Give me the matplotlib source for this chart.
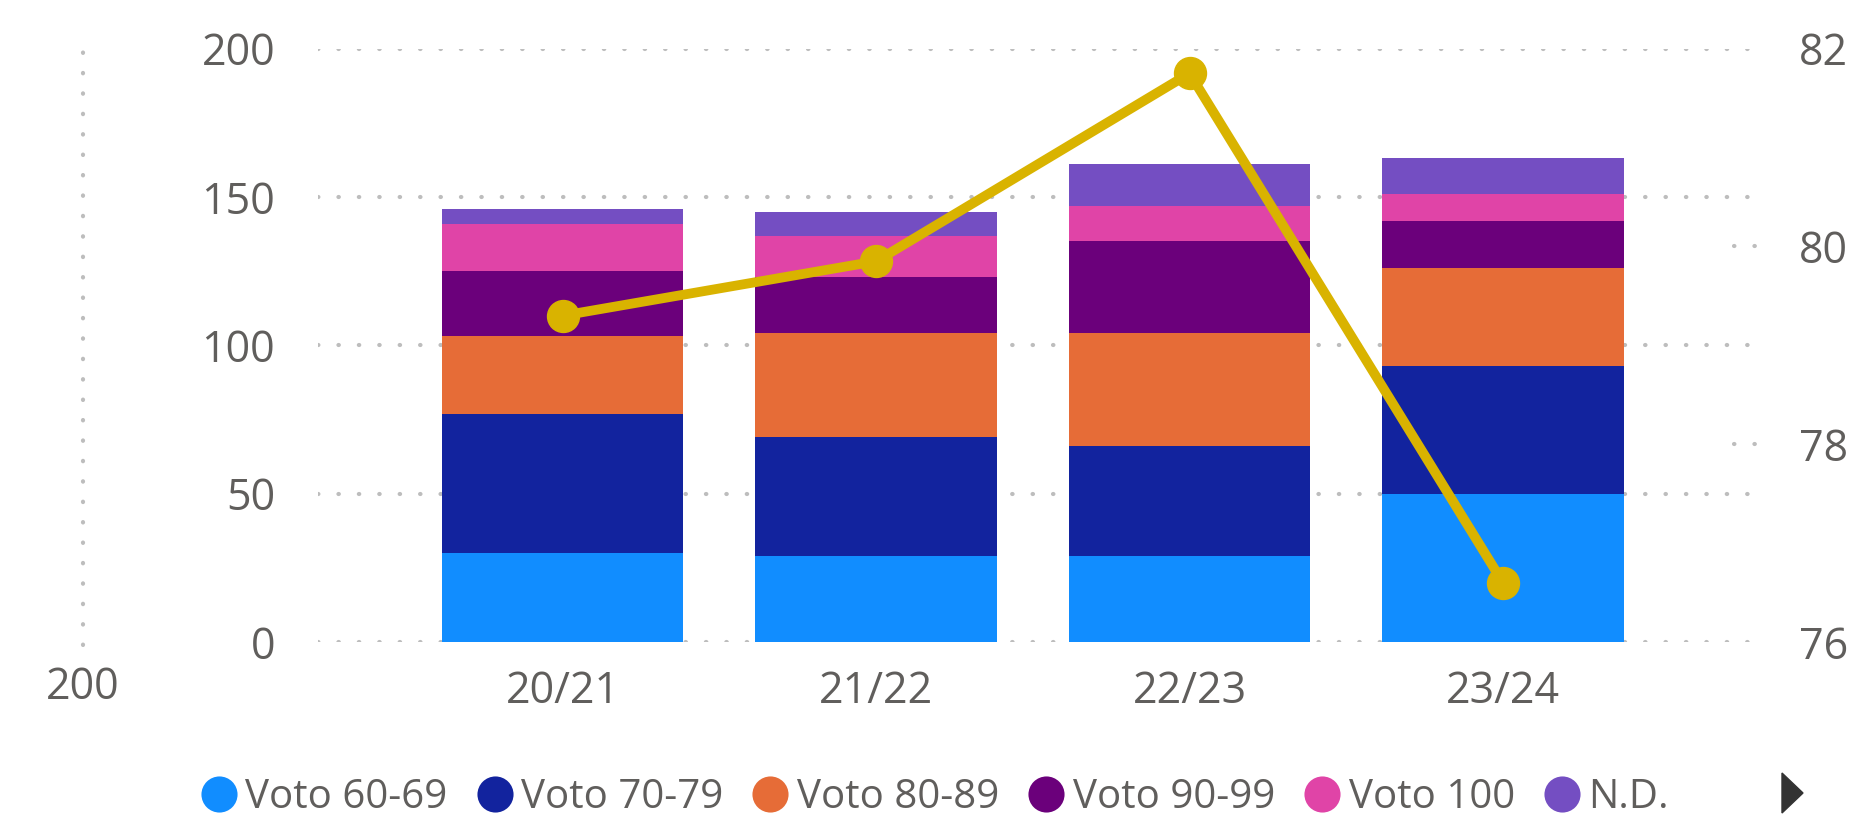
"""Stacked grade bands per school year with the average grade on a second axis."""

import matplotlib
matplotlib.use("Agg")
import matplotlib.pyplot as plt
from matplotlib.lines import Line2D
from matplotlib.patches import Polygon

categories = ["20/21", "21/22", "22/23", "23/24"]
voto_60_69 = [30, 29, 29, 50]
voto_70_79 = [47, 40, 37, 43]
voto_80_89 = [26, 35, 38, 33]
voto_90_99 = [22, 19, 31, 16]
voto_100 = [16, 14, 12, 9]
non_def = [5, 8, 14, 12]
media_voto = [79.3, 79.85, 81.75, 76.6]

series_names = ["Voto 60-69", "Voto 70-79", "Voto 80-89", "Voto 90-99", "Voto 100", "N.D."]
series = [voto_60_69, voto_70_79, voto_80_89, voto_90_99, voto_100, non_def]
colors = ["#118DFF", "#12239E", "#E66C37", "#6B007B", "#E044A7", "#744EC2"]
line_color = "#D9B300"
text_color = "#605E5C"
grid_color = "#BDBDBD"

plt.rcParams["font.family"] = ["Open Sans", "DejaVu Sans"]
FS = 31

fig = plt.figure(figsize=(18.6, 8.16), dpi=100)
ax = fig.add_axes([0.171, 0.2132, 0.7736, 0.7272])

x = list(range(len(categories)))
bottom = [0] * len(categories)
for name, vals, c in zip(series_names, series, colors):
    ax.bar(x, vals, width=0.77, bottom=bottom, color=c, label=name, zorder=2)
    bottom = [b + v for b, v in zip(bottom, vals)]

dots = dict(color=grid_color, lw=3.0, ls=(0, (0.1, 4.8)), dash_capstyle="round")
ax.set_ylim(0, 200)
ax.set_xlim(-0.78, 3.81)
ax.set_yticks([0, 50, 100, 150, 200])
for yv in [0, 50, 100, 150, 200]:
    ax.axhline(yv, zorder=1, **dots)
ax.set_xticks(x)
ax.set_xticklabels(categories)
for s in ax.spines.values():
    s.set_visible(False)
ax.tick_params(axis="y", length=0, pad=31, labelsize=FS, labelcolor=text_color)
ax.tick_params(axis="x", length=0, pad=20, labelsize=FS, labelcolor=text_color)

ax2 = ax.twinx()
ax2.set_ylim(76, 82)
ax2.set_yticks([76, 78, 80, 82])
for yv in [78, 80]:
    ax2.axhline(yv, xmin=0.984, xmax=1.0, zorder=1, **dots)
ax2.plot(x, media_voto, color=line_color, lw=7.0, marker="o", ms=23,
         solid_capstyle="round", zorder=5)
for s in ax2.spines.values():
    s.set_visible(False)
ax2.tick_params(axis="y", length=0, pad=30, labelsize=FS, labelcolor=text_color)

# stray axis on the far left, as in the original report
fig.add_artist(Line2D([0.0446, 0.0446], [0.2096, 0.947], transform=fig.transFigure, **dots))
fig.text(0.0446, 0.157, "200", ha="center", va="center", fontsize=FS, color=text_color)

handles = [Line2D([], [], ls="none", marker="o", ms=26, color=c, markeredgewidth=0)
           for c in colors]
fig.legend(handles, series_names, loc="center", bbox_to_anchor=(0.502, 0.022),
           ncol=6, frameon=False, fontsize=29, labelcolor=text_color,
           handlelength=1.0, handletextpad=0.15, columnspacing=0.68, borderpad=0)

# legend scroll arrow
fig.add_artist(Polygon([[1782 / 1860, 43 / 816], [1782 / 1860, 3 / 816], [1803 / 1860, 23 / 816]],
                       closed=True, transform=fig.transFigure, color="#333333"))

fig.savefig("out.png", dpi=100)
